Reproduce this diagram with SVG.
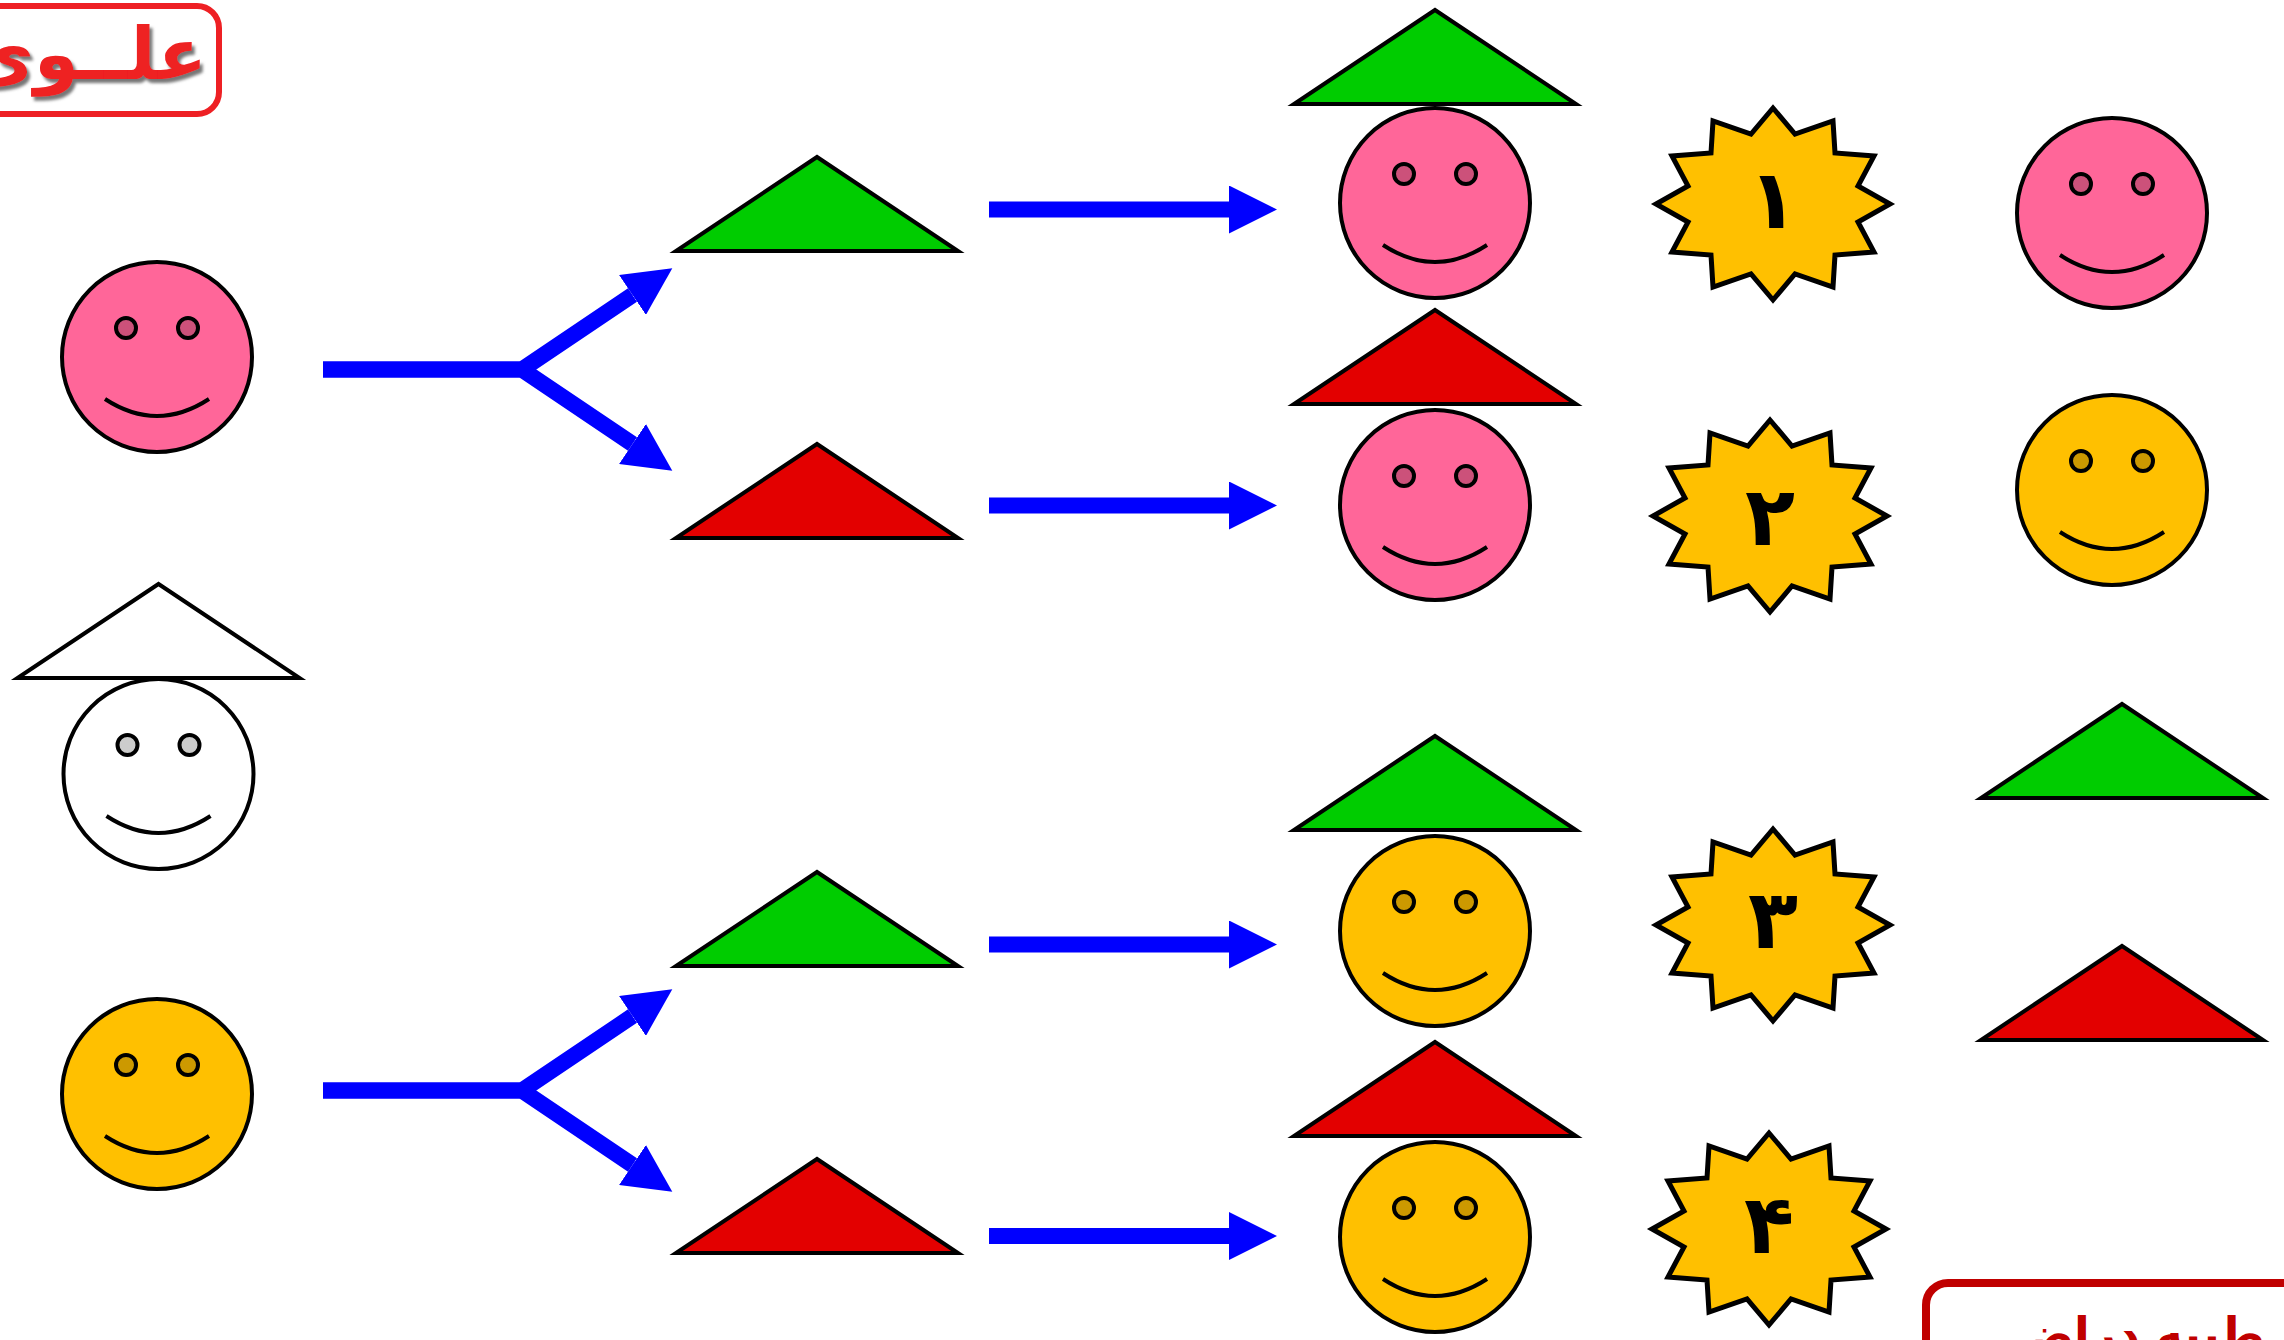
<svg xmlns="http://www.w3.org/2000/svg" width="2284" height="1340" viewBox="0 0 2284 1340">
<style>
.pink{fill:#FF6699}.yellow{fill:#FFC000}.white{fill:#FFFFFF}.green{fill:#00CC00}.red{fill:#E30000}
.ln{stroke:#000;stroke-width:4}
.eye{fill:#000;fill-opacity:.2}
.eyeo{fill:none;stroke:#000;stroke-width:4}
.smile{fill:none;stroke:#000;stroke-width:4}
.star{fill:#FFC000;stroke:#000;stroke-width:5}
.num{font-family:"DejaVu Sans",sans-serif;font-weight:700;font-size:82px;fill:#000;text-anchor:middle}
.conn{fill:none;stroke:#0000FF;stroke-width:16;stroke-linejoin:miter;marker-end:url(#head)}
</style>
<defs>
<marker id="head" markerUnits="userSpaceOnUse" markerWidth="48" markerHeight="48" refX="0" refY="24" orient="auto"><polygon points="0,0 48,24 0,48" fill="#0000FF"/></marker>
<filter id="sh" x="-10%" y="-20%" width="125%" height="140%"><feDropShadow dx="3" dy="4" stdDeviation="1.5" flood-color="#777"/></filter>
<g id="face"><circle r="95" class="ln"/><circle cx="-31" cy="-29" r="10" class="eye"/><circle cx="31" cy="-29" r="10" class="eye"/><circle cx="-31" cy="-29" r="10" class="eyeo"/><circle cx="31" cy="-29" r="10" class="eyeo"/><path d="M-52 42Q0 76 52 42" class="smile"/></g>
<polygon id="tri" points="0,-94 141,0 -141,0" class="ln"/>
<polygon id="star" points="0,-96 22,-70 60,-83 62,-51 101,-48 85,-18 117,0 85,18 101,48 62,51 60,83 22,70 0,96 -22,70 -60,83 -62,51 -101,48 -85,18 -117,0 -85,-18 -101,-48 -62,-51 -60,-83 -22,-70" class="star"/>
</defs>
<rect width="2284" height="1340" fill="#fff"/>
<g id="connectors">
<path class="conn" d="M323 369.5H522L632.5 295"/>
<path class="conn" d="M323 369.5H522L632.5 444"/>
<path class="conn" d="M323 1090.5H522L632.5 1016"/>
<path class="conn" d="M323 1090.5H522L632.5 1165"/>
<path class="conn" d="M989 209.500H1229"/>
<path class="conn" d="M989 505.500H1229"/>
<path class="conn" d="M989 944.500H1229"/>
<path class="conn" d="M989 1236H1229"/>
</g>
<g id="label-top"><rect x="-100" y="6" width="319" height="108" rx="22" fill="#fff" stroke="#EE2024" stroke-width="6"/><text x="207" y="79" direction="rtl" text-anchor="start" font-family="'DejaVu Sans',sans-serif" font-weight="700" font-size="72" fill="#EE2024" filter="url(#sh)">علــوی</text></g>
<g id="label-bottom"><rect x="1926" y="1283" width="500" height="200" rx="22" fill="#fff" stroke="#C00000" stroke-width="8"/><text x="2012" y="1350" direction="rtl" text-anchor="end" font-family="'DejaVu Sans',sans-serif" font-weight="700" font-size="46" fill="#C00000">ار : طیبه دراض</text></g>
<g id="s1" class="pink" transform="translate(157 357)"><use href="#face"/></g>
<g id="s2" class="white" transform="translate(158.500 774)"><use href="#face"/></g>
<g id="t0" class="white" transform="translate(158.500 678)"><use href="#tri"/></g>
<g id="s3" class="yellow" transform="translate(157 1094)"><use href="#face"/></g>
<g id="t1" class="green" transform="translate(817 251)"><use href="#tri"/></g>
<g id="t2" class="red" transform="translate(817 538)"><use href="#tri"/></g>
<g id="t3" class="green" transform="translate(817 966)"><use href="#tri"/></g>
<g id="t4" class="red" transform="translate(817 1253)"><use href="#tri"/></g>
<g id="s4" class="pink" transform="translate(1435 203)"><use href="#face"/></g>
<g id="t5" class="green" transform="translate(1435 104)"><use href="#tri"/></g>
<g id="s5" class="pink" transform="translate(1435 505)"><use href="#face"/></g>
<g id="t6" class="red" transform="translate(1435 404)"><use href="#tri"/></g>
<g id="s6" class="yellow" transform="translate(1435 931)"><use href="#face"/></g>
<g id="t7" class="green" transform="translate(1435 830)"><use href="#tri"/></g>
<g id="s7" class="yellow" transform="translate(1435 1237)"><use href="#face"/></g>
<g id="t8" class="red" transform="translate(1435 1136)"><use href="#tri"/></g>
<g id="b1" transform="translate(1773 204)"><use href="#star"/><text class="num" y="24">۱</text></g>
<g id="b2" transform="translate(1770 516)"><use href="#star"/><text class="num" y="29">۲</text></g>
<g id="b3" transform="translate(1773 925)"><use href="#star"/><text class="num" y="23">۳</text></g>
<g id="b4" transform="translate(1769 1229)"><use href="#star"/><text class="num" y="24">۴</text></g>
<g id="k1" class="pink" transform="translate(2112 213)"><use href="#face"/></g>
<g id="k2" class="yellow" transform="translate(2112 490)"><use href="#face"/></g>
<g id="k3" class="green" transform="translate(2122 798)"><use href="#tri"/></g>
<g id="k4" class="red" transform="translate(2122 1040)"><use href="#tri"/></g>
</svg>
